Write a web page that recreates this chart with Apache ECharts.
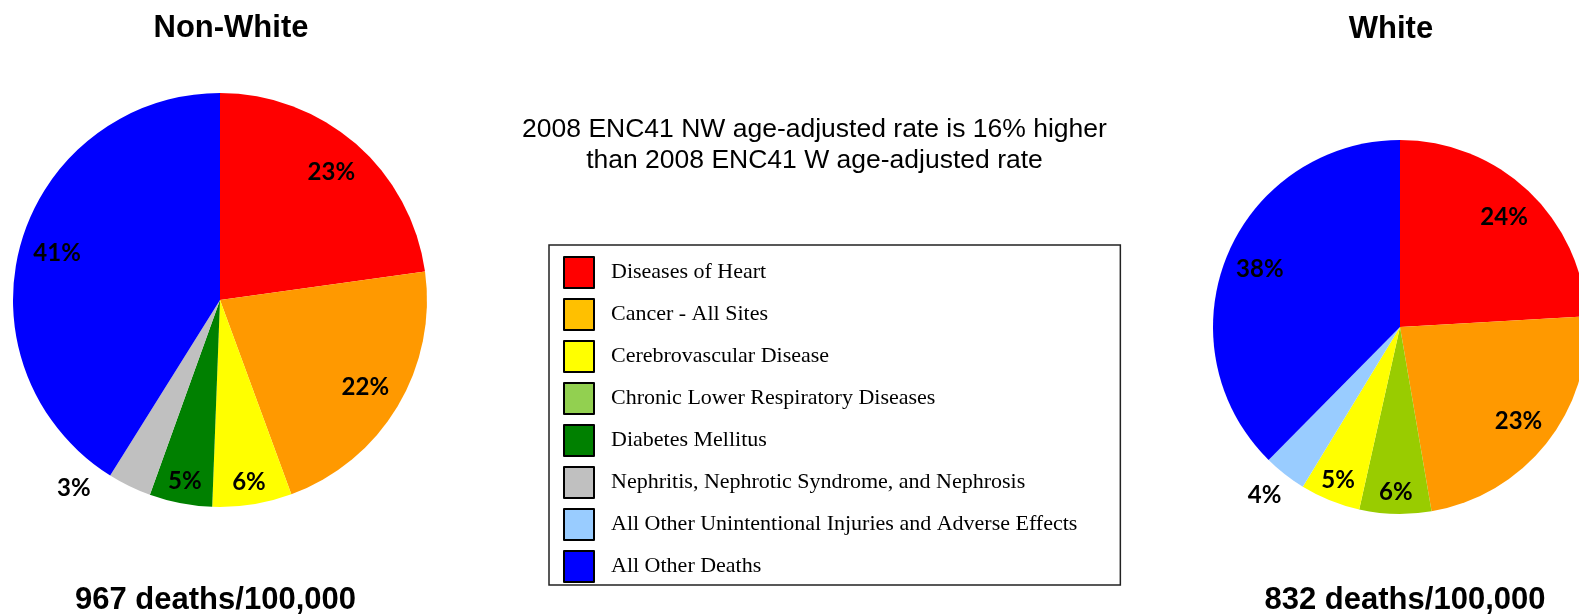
<!DOCTYPE html>
<html>
<head>
<meta charset="utf-8">
<script src="https://cdn.jsdelivr.net/npm/echarts@6/dist/echarts.min.js"></script>
<style>
  html, body { margin: 0; padding: 0; background: #fff; }
  #chart { width: 1579px; height: 616px; }
</style>
</head>
<body>
<div id="chart"></div>
<script>
// legend entries (legend swatches use slightly different colours than the pies)
var categories = ['Diseases of Heart', 'Cancer - All Sites', 'Cerebrovascular Disease',
  'Chronic Lower Respiratory Diseases', 'Diabetes Mellitus',
  'Nephritis, Nephrotic Syndrome, and Nephrosis',
  'All Other Unintentional Injuries and Adverse Effects', 'All Other Deaths'];
var legendColors = ['#FF0000', '#FFC000', '#FFFF00', '#92D050', '#008000', '#C0C0C0', '#99CCFF', '#0000FF'];

// Non-White slices, clockwise from 12 o'clock
var nonWhiteNames = ['Diseases of Heart', 'Cancer - All Sites', 'Cerebrovascular Disease',
  'Diabetes Mellitus', 'Nephritis, Nephrotic Syndrome, and Nephrosis', 'All Other Deaths'];
var nonWhiteValues = [22.8, 21.6, 6.2, 4.9, 3.4, 41.1];
var nonWhiteColors = ['#FF0000', '#FF9900', '#FFFF00', '#008000', '#C0C0C0', '#0000FF'];

// White slices, clockwise from 12 o'clock
var whiteNames = ['Diseases of Heart', 'Cancer - All Sites', 'Chronic Lower Respiratory Diseases',
  'Cerebrovascular Disease', 'All Other Unintentional Injuries and Adverse Effects', 'All Other Deaths'];
var whiteValues = [24.1, 23.2, 6.2, 5.2, 3.7, 37.6];
var whiteColors = ['#FF0000', '#FF9900', '#99CC00', '#FFFF00', '#99CCFF', '#0000FF'];

var titles = ['Non-White', 'White'];
var totals = ['967 deaths/100,000', '832 deaths/100,000'];
var note = '2008 ENC41 NW age-adjusted rate is 16% higher\nthan 2008 ENC41 W age-adjusted rate';

var labelFont = { fontFamily: 'Lato', fontWeight: 'bold', fontSize: 24, color: '#000' };

function slices(names, values, colors) {
  return names.map(function (n, i) {
    return { name: n, value: values[i], itemStyle: { color: colors[i] } };
  });
}

// transparent ring used only to carry the percentage labels
// mode: 'big' -> labels of slices >= 10, 'small' -> the rest (some of them outside)
function labelSlices(names, values, mode, outside) {
  return names.map(function (n, i) {
    var item = { name: n, value: values[i], itemStyle: { color: 'rgba(0,0,0,0)' } };
    var isBig = values[i] >= 10;
    var show = mode === 'big' ? isBig : !isBig;
    item.label = { show: show };
    if (show && outside[n]) {
      item.label.position = 'outside';
      item.labelLine = { show: false, length: outside[n][0], length2: outside[n][1] };
    }
    return item;
  });
}

function pieSeries(center, r, data) {
  return {
    type: 'pie', center: center, radius: [0, r], startAngle: 90, clockwise: true,
    silent: true, label: { show: false }, labelLine: { show: false },
    itemStyle: { borderWidth: 0 }, emphasis: { disabled: true },
    data: data
  };
}

function labelSeries(center, r0, r, data) {
  return {
    type: 'pie', center: center, radius: [r0, r], startAngle: 90, clockwise: true,
    silent: true, avoidLabelOverlap: false, z: 5,
    itemStyle: { borderWidth: 0 }, emphasis: { disabled: true },
    label: Object.assign({ position: 'inside',
      formatter: function (p) { return Math.round(p.value) + '%'; } }, labelFont),
    labelLine: { show: false },
    data: data
  };
}

var textBase = { fill: '#000', textAlign: 'center', textVerticalAlign: 'middle' };
function txt(x, y, text, font, extra) {
  return { type: 'text', x: x, y: y, silent: true,
    style: Object.assign({ text: text, font: font }, textBase, extra || {}) };
}

var nwOutside = { 'Nephritis, Nephrotic Syndrome, and Nephrosis': [2, 33] };
var wOutside = { 'All Other Unintentional Injuries and Adverse Effects': [27, -18] };

var chart = echarts.init(document.getElementById('chart'));
var option = {
  animation: false,
  backgroundColor: '#fff',
  legend: {
    orient: 'vertical',
    left: 549, top: 245,
    padding: [11, 43, 2, 14],
    itemWidth: 30, itemHeight: 31, itemGap: 9,
    icon: 'rect',
    borderColor: '#222', borderWidth: 1.5,
    selectedMode: false,
    itemStyle: { borderColor: '#000', borderWidth: 2 },
    textStyle: { fontFamily: 'Liberation Serif', fontSize: 22, color: '#000', padding: [0, 0, 0, 12] },
    data: categories.map(function (n, i) { return { name: n, itemStyle: { color: legendColors[i] } }; })
  },
  graphic: [
    txt(231, 28, titles[0], 'bold 31px "Liberation Sans"'),
    txt(1391, 29, titles[1], 'bold 31px "Liberation Sans"'),
    txt(215.5, 600, totals[0], 'bold 31px "Liberation Sans"'),
    txt(1405, 600, totals[1], 'bold 31px "Liberation Sans"'),
    txt(814.5, 145, note, '26.5px "Liberation Sans"', { lineHeight: 31 })
  ],
  series: [
    pieSeries([220, 300], 207, slices(nonWhiteNames, nonWhiteValues, nonWhiteColors)),
    pieSeries([1400, 327], 187, slices(whiteNames, whiteValues, whiteColors)),
    labelSeries([220, 300], 126, 207, labelSlices(nonWhiteNames, nonWhiteValues, 'big', nwOutside)),
    labelSeries([220, 300], 157, 207, labelSlices(nonWhiteNames, nonWhiteValues, 'small', nwOutside)),
    labelSeries([1400, 327], 110, 187, labelSlices(whiteNames, whiteValues, 'big', wOutside)),
    labelSeries([1400, 327], 138, 187, labelSlices(whiteNames, whiteValues, 'small', wOutside))
  ]
};
chart.setOption(option);
</script>
</body>
</html>
